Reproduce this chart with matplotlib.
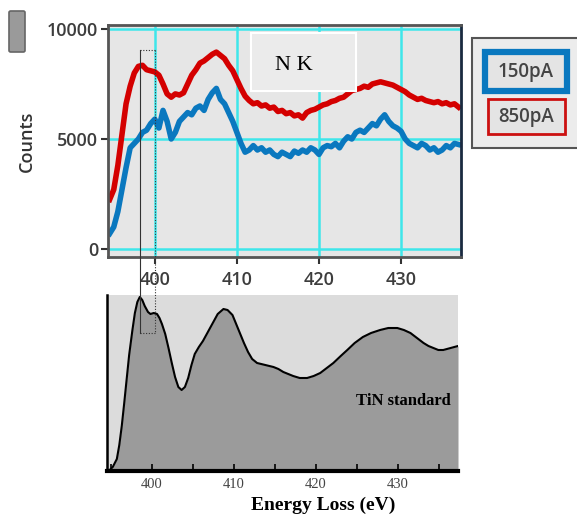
import matplotlib.pyplot as plt
import numpy as np
from matplotlib.patches import Rectangle, FancyBboxPatch
from matplotlib.lines import Line2D

# N K edge, two beam currents (counts), 0.5 eV steps
energy = np.arange(394.5, 437.01, 0.5)
counts_850 = [2250, 2700, 3800, 5200, 6600, 7400, 8000, 8300, 8350, 8150,
              8100, 8050, 7900, 7500, 7050, 6900, 7050, 7000, 7100, 7500,
              7900, 8150, 8450, 8550, 8700, 8850, 8950, 8800, 8650, 8350,
              8100, 7700, 7300, 6950, 6750, 6600, 6650, 6500, 6550, 6400,
              6450, 6250, 6300, 6150, 6200, 6050, 6100, 5950, 6200, 6300,
              6350, 6450, 6550, 6600, 6700, 6750, 6850, 6900, 7050, 7200,
              7250, 7300, 7400, 7350, 7500, 7550, 7600, 7550, 7500, 7450,
              7350, 7250, 7150, 7000, 6900, 6800, 6850, 6750, 6700, 6650,
              6700, 6600, 6650, 6550, 6600, 6450]
counts_150 = [700, 1000, 1700, 2700, 3700, 4600, 4800, 5000, 5300, 5400,
              5700, 5900, 5500, 6300, 5800, 5000, 5300, 5800, 6000, 6200,
              6100, 6400, 6500, 6300, 6800, 7100, 7300, 6800, 6600, 6200,
              5800, 5300, 4800, 4400, 4500, 4700, 4500, 4600, 4400, 4500,
              4300, 4200, 4400, 4300, 4200, 4450, 4350, 4500, 4400, 4600,
              4500, 4300, 4600, 4700, 4650, 4800, 4600, 4900, 5100, 5000,
              5300, 5400, 5300, 5500, 5700, 5600, 5900, 6100, 5800, 5600,
              5500, 5350, 5000, 4800, 4700, 4600, 4800, 4700, 4500, 4600,
              4400, 4500, 4700, 4600, 4800, 4750]

# TiN standard reference spectrum (arbitrary units)
tin_e = [394.7, 395.2, 395.7, 396.0, 396.3, 396.6, 396.9, 397.2, 397.6,
         397.9, 398.2, 398.5, 398.8, 399.1, 399.5, 399.8, 400.2, 400.6,
         400.9, 401.2, 401.6, 402.0, 402.4, 402.8, 403.2, 403.6, 404.0,
         404.4, 404.8, 405.2, 405.7, 406.2, 406.8, 407.4, 408.0, 408.7,
         409.2, 409.8, 410.2, 410.7, 411.2, 411.7, 412.2, 412.8, 413.8,
         414.8, 415.4, 416.0, 417.2, 418.0, 418.9, 419.7, 420.5, 421.3,
         422.1, 423.0, 423.8, 424.7, 425.7, 426.7, 427.8, 428.8, 429.9,
         430.7, 431.5, 432.3, 433.1, 433.7, 434.3, 434.9, 435.5, 436.4,
         437.3]
tin_i = [0, 4, 12, 26, 45, 68, 92, 116, 141, 158, 169, 174, 171, 165,
         159, 157, 158, 157, 153, 147, 137, 123, 108, 94, 84, 81, 84, 93,
         106, 117, 124, 130, 139, 148, 157, 162, 161, 156, 148, 138, 128,
         119, 112, 108, 106, 104, 102, 99, 95, 93, 93, 95, 98, 103, 108,
         115, 121, 128, 134, 138, 141, 143, 143, 141, 138, 133, 128, 125,
         123, 121, 121, 123, 125]

W, H = 577, 516
fig = plt.figure(figsize=(W / 100, H / 100), dpi=100)
fig.patch.set_facecolor('white')


def fx(px):
    return px / W


def fy(py):
    return 1 - py / H


# ---- top panel ----
ax = fig.add_axes([fx(108), fy(257), fx(461) - fx(108), fy(25) - fy(257)])
ax.set_facecolor('#e6e6e6')
ax.plot(energy, counts_850, color='#d40000', lw=4, solid_joinstyle='round')
ax.plot(energy, counts_150, color='#0a78bf', lw=4, solid_joinstyle='round')
ax.set_xlim(394.3, 437.3)
ax.set_ylim(-364, 10182)
ax.set_xticks([400, 410, 420, 430])
ax.set_yticks([0, 5000, 10000])
ax.grid(True, color='#3fe6ea', lw=1.8)
ax.set_axisbelow(True)
ax.tick_params(colors='#333333', labelcolor='#3d3d3d', labelsize=13,
               length=5, width=1.5, pad=2)
ax.tick_params(axis='x', pad=5)
for lbl in ax.get_xticklabels() + ax.get_yticklabels():
    lbl.set_family('Open Sans')
    lbl.set_fontweight('semibold')
for s in ['left', 'bottom', 'top']:
    ax.spines[s].set_color('#555555')
    ax.spines[s].set_linewidth(2)
ax.spines['right'].set_color('#1a2a40')
ax.spines['right'].set_linewidth(2)
ax.set_ylabel('Counts', fontsize=13, color='#333333', labelpad=8,
              family='Open Sans', fontweight='semibold')

# N K label box
ax.add_artist(Rectangle((fx(251), fy(91)), fx(356) - fx(251), fy(33) - fy(91),
                        transform=fig.transFigure, facecolor='#ebebeb',
                        edgecolor='white', lw=1.5, zorder=5))
fig.text(fx(294), fy(65), 'N K', fontsize=16, family='Liberation Serif',
         ha='center', va='center', zorder=6)

# white cover of pasted lower image
cover = fig.add_axes([fx(80), 0, fx(480) - fx(80), fy(287)])
cover.set_facecolor('white')
cover.set_xticks([])
cover.set_yticks([])
for s in cover.spines.values():
    s.set_visible(False)

# ---- bottom panel ----
bx = fig.add_axes([fx(107), fy(471), fx(458) - fx(107), fy(295) - fy(471)])
bx.set_facecolor('#dcdcdc')
bx.fill_between(tin_e, tin_i, 0, color='#9b9b9b', lw=0)
bx.plot(tin_e, tin_i, color='black', lw=1.5)
bx.set_xlim(394.5, 437.3)
bx.set_ylim(0, 176)
bx.set_xticks([400, 410, 420, 430])
bx.set_xticks([395, 405, 415, 425, 435], minor=True)
bx.set_yticks([])
bx.tick_params(axis='x', which='both', direction='in', length=5, width=1.2,
               labelsize=10.5, labelcolor='#444444', pad=5)
for lbl in bx.get_xticklabels():
    lbl.set_family('Liberation Serif')
bx.spines['top'].set_visible(False)
bx.spines['right'].set_visible(False)
bx.spines['left'].set_linewidth(1.8)
bx.spines['bottom'].set_linewidth(3)
bx.text(0.98, 0.4, 'TiN standard', transform=bx.transAxes, ha='right',
        va='center', fontsize=12, fontweight='bold', family='Liberation Serif')
fig.text(fx(323), fy(505), 'Energy Loss (eV)', ha='center', va='center',
         fontsize=14, fontweight='bold', family='Liberation Serif')


# dotted zoom box across both panels
def to_fig(axis, x, y):
    p = axis.transData.transform((x, y))
    return fig.transFigure.inverted().transform(p)


x0 = to_fig(ax, 398.2, 0)[0]
x1 = to_fig(ax, 400.0, 0)[0]
y_top, y_bot = fy(50), fy(333)
fig.add_artist(Line2D([x0, x0], [y_top, y_bot], color='#333333', lw=0.8))
fig.add_artist(Line2D([x1, x1], [y_top, y_bot], color='#333333', lw=0.8,
                      ls=(0, (1, 1.5))))
fig.add_artist(Line2D([x0, x1], [y_top, y_top], color='#333333', lw=0.8,
                      ls=(0, (1, 1.5))))
fig.add_artist(Line2D([x0, x1], [y_bot, y_bot], color='#333333', lw=0.8,
                      ls=(0, (1, 1.5))))

# legend panel on the right
fig.add_artist(Rectangle((fx(472), fy(148)), fx(580) - fx(472), fy(38) - fy(148),
                         transform=fig.transFigure, facecolor='#ececec',
                         edgecolor='#555555', lw=1.5))
fig.add_artist(Rectangle((fx(485), fy(91)), fx(567) - fx(485), fy(52) - fy(91),
                         transform=fig.transFigure, facecolor='#e4e4e4',
                         edgecolor='#0a78bf', lw=4.5))
fig.add_artist(Rectangle((fx(488), fy(134)), fx(565) - fx(488), fy(99) - fy(134),
                         transform=fig.transFigure, facecolor='#e4e4e4',
                         edgecolor='#cc1111', lw=2))
fig.text(fx(526), fy(72), '150pA', ha='center', va='center', fontsize=13.5,
         color='#444444', family='Open Sans', fontweight='semibold')
fig.text(fx(526), fy(117), '850pA', ha='center', va='center', fontsize=13.5,
         color='#444444', family='Open Sans', fontweight='semibold')

# small grey swatch at top-left
fig.add_artist(FancyBboxPatch((fx(9), fy(52)), fx(25) - fx(9), fy(11) - fy(52),
                              boxstyle='round,pad=0,rounding_size=0.003',
                              transform=fig.transFigure, facecolor='#9a9a9a',
                              edgecolor='#666666', lw=1.2))

fig.savefig('out.png', dpi=100)
